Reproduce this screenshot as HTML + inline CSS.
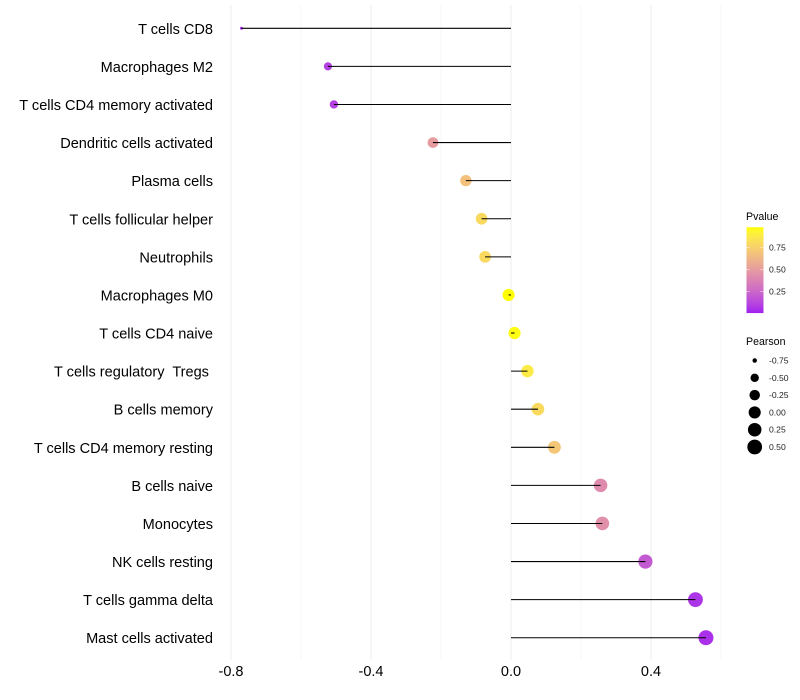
<!DOCTYPE html>
<html>
<head>
<meta charset="utf-8">
<style>
html,body{margin:0;padding:0;background:#fff;}
svg{display:block;font-family:"Liberation Sans",sans-serif;}
</style>
</head>
<body>
<svg id="chart" width="800" height="700" viewBox="0 0 800 700" xmlns="http://www.w3.org/2000/svg">
<defs><linearGradient id="pgrad" x1="0" y1="1" x2="0" y2="0"></linearGradient></defs>
</svg>
<script>
const categories = ["T cells CD8","Macrophages M2","T cells CD4 memory activated","Dendritic cells activated","Plasma cells","T cells follicular helper","Neutrophils","Macrophages M0","T cells CD4 naive","T cells regulatory  Tregs ","B cells memory","T cells CD4 memory resting","B cells naive","Monocytes","NK cells resting","T cells gamma delta","Mast cells activated"];
const pearson = [-0.77,-0.523,-0.506,-0.223,-0.129,-0.084,-0.074,-0.007,0.01,0.047,0.077,0.124,0.256,0.261,0.384,0.527,0.557];
const pvalue = [0.03,0.1,0.1,0.5,0.68,0.8,0.8,0.98,0.97,0.88,0.8,0.7,0.42,0.44,0.2,0.06,0.05];
const majorTicks = [-0.8,-0.4,0,0.4];
const minorTicks = [-0.6,-0.2,0.2,0.6];
const colorTicks = [0.25,0.5,0.75];
const sizeTicks = [-0.75,-0.5,-0.25,0,0.25,0.5];

const svg = document.getElementById('chart');
const NS = 'http://www.w3.org/2000/svg';
function add(parent, tag, attrs, text){
  const e = document.createElementNS(NS, tag);
  for(const k in attrs) e.setAttribute(k, attrs[k]);
  if(text !== undefined) e.textContent = text;
  parent.appendChild(e);
  return e;
}
const xScale = v => 511 + v * 350;
const yScale = i => 28.3 + i * 38.09;
const pMin = 0.005, pMax = 0.98;
const pY = p => 313.5 - 88 * p;
const sMin = -0.77, sMax = 0.557;
const radius = v => 0.3 + 1.2 * (1 + 5 * Math.sqrt(Math.max(0,(v - sMin) / (sMax - sMin))));

function rgb2lab(c){
  let [r,g,b] = c.map(v => { v/=255; return v>0.04045?Math.pow((v+0.055)/1.055,2.4):v/12.92; });
  let x=(0.4124*r+0.3576*g+0.1805*b)/0.95047, y=0.2126*r+0.7152*g+0.0722*b, z=(0.0193*r+0.1192*g+0.9505*b)/1.08883;
  const f=t=>t>0.008856?Math.cbrt(t):7.787*t+16/116;
  return [116*f(y)-16,500*(f(x)-f(y)),200*(f(y)-f(z))];
}
function lab2rgb(l){
  const fy=(l[0]+16)/116, fx=l[1]/500+fy, fz=fy-l[2]/200;
  const g=t=>{const c=t*t*t;return c>0.008856?c:(t-16/116)/7.787;};
  const x=g(fx)*0.95047,y=g(fy),z=g(fz)*1.08883;
  const lin=[3.2406*x-1.5372*y-0.4986*z,-0.9689*x+1.8758*y+0.0415*z,0.0557*x-0.204*y+1.057*z];
  const o=lin.map(v=>{v=Math.max(0,Math.min(1,v));return Math.round(255*(v>0.0031308?1.055*Math.pow(v,1/2.4)-0.055:12.92*v));});
  return 'rgb('+o.join(',')+')';
}
const labLow = rgb2lab([160,32,240]), labHigh = rgb2lab([255,255,0]);
function colorOf(p){
  const t = Math.max(0,Math.min(1,(p-pMin)/(pMax-pMin)));
  return lab2rgb(labLow.map((v,i)=>v+(labHigh[i]-v)*t));
}

const plotTop = 5, plotBottom = 660;
const grid = add(svg,'g',{});


minorTicks.forEach(t => {
  const l = add(grid,'line',{x1:xScale(t),x2:xScale(t),y1:plotTop,y2:plotBottom,stroke:'#f2f2f2','stroke-width':0.6});
  
  
});
majorTicks.forEach(t => {
  const l = add(grid,'line',{x1:xScale(t),x2:xScale(t),y1:plotTop,y2:plotBottom,stroke:'#eeeeee','stroke-width':1});
  
  
  const lab = add(svg,'text',{x:xScale(t),y:676,'text-anchor':'middle','font-size':14.5,fill:'#000'},t===0?'0.0':t.toFixed(1));
  
  
});

categories.forEach((c,i) => {
  const lab = add(svg,'text',{x:213,y:yScale(i)+5.5,'text-anchor':'end','font-size':14.55,fill:'#000','xml:space':'preserve'},c);
  lab.style.whiteSpace = 'pre';
  
  
});

categories.forEach((c,i) => {
  const dot = add(svg,'circle',{cx:xScale(pearson[i]),cy:yScale(i),r:radius(pearson[i]),fill:colorOf(pvalue[i])});
  
  
});
categories.forEach((c,i) => {
  const seg = add(svg,'line',{x1:xScale(0),x2:xScale(pearson[i]),y1:yScale(i),y2:yScale(i),stroke:'#000','stroke-width':1.05});
  
  
});

const t1 = add(svg,'text',{x:746,y:220,'font-size':10.6,fill:'#000'},'Pvalue');


const grad = document.getElementById('pgrad');
for(let k=0;k<=20;k++){
  add(grad,'stop',{offset:(k*5)+'%','stop-color':colorOf(pMin+(pMax-pMin)*k/20)});
}
const bar = add(svg,'rect',{x:746.5,y:pY(pMax),width:17,height:pY(pMin)-pY(pMax),fill:'url(#pgrad)'});


colorTicks.forEach(p => {
  const y = pY(p);
  const a = add(svg,'line',{x1:746.5,x2:750,y1:y,y2:y,stroke:'#fff','stroke-opacity':0.6,'stroke-width':0.7});
  
  
  const b = add(svg,'line',{x1:760,x2:763.5,y1:y,y2:y,stroke:'#fff','stroke-opacity':0.6,'stroke-width':0.7});
  
  
  const lab = add(svg,'text',{x:769,y:y+3,'font-size':8.6,fill:'#222'},p.toFixed(2));
  
  
});

const t2 = add(svg,'text',{x:746,y:345,'font-size':10.6,fill:'#000'},'Pearson');


sizeTicks.forEach((v,i) => {
  const y = 360.5 + i * 17.3;
  const d = add(svg,'circle',{cx:754.7,cy:y,r:radius(v),fill:'#000'});
  
  
  const lab = add(svg,'text',{x:769,y:y+3,'font-size':8.6,fill:'#222'},v.toFixed(2));
  
  
});
</script>
</body>
</html>
